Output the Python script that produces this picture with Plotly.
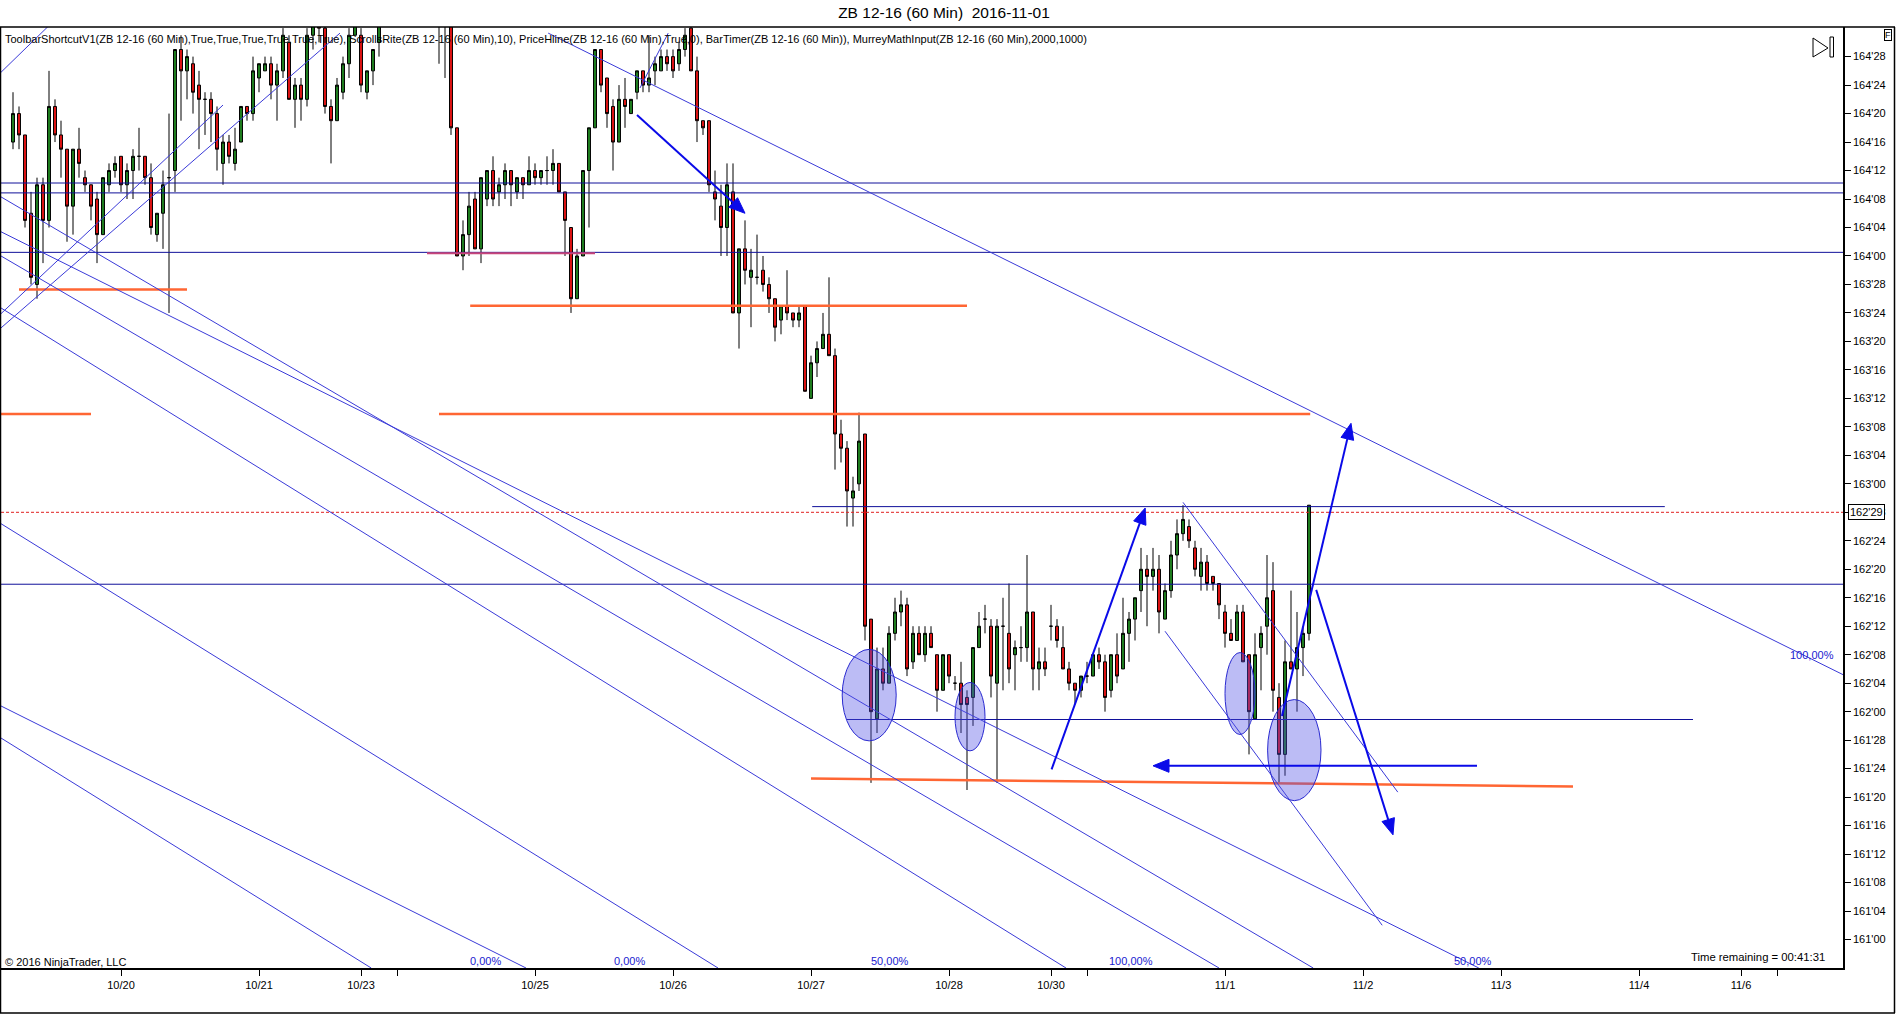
import plotly.graph_objects as go

# ZB 12-16 60 min bars, one slot per hourly bar on the time axis
bar_pos = list(range(2, 219))

# OHLC in 32nds above 160'00 (128 = 164'00)
open_32 = [144, 148, 145, 134, 124, 138, 133, 149, 145, 143,
           135, 143, 139, 138, 136, 131, 138, 140, 142, 138,
           140, 142, 142, 139, 131, 134, 139, 140, 157, 154,
           155, 152, 150, 150, 148, 141, 144, 141, 144, 149,
           148, 153, 154, 155, 152, 154, 158, 150, 152, 150,
           159, 163, 160, 149, 147, 151, 155, 159, 159, 151,
           154, 158, 161, 165, 166, 167, 168, 169, 170, 167,
           164, 163, 164, 162, 146, 128, 131, 136, 129, 136,
           140, 137, 138, 140, 137, 139, 138, 140, 139, 140,
           140, 141, 137, 132, 122, 128, 140, 146, 157, 153,
           149, 144, 150, 148, 151, 154, 152, 154, 154, 156,
           156, 155, 157, 160, 154, 147, 147, 137, 135, 132,
           137, 120, 129, 125, 125, 126, 124, 122, 119, 121,
           120, 119, 121, 108, 113, 115, 117, 114, 103, 101,
           94, 96, 103, 77, 63, 70, 68, 75, 78, 79,
           71, 75, 72, 75, 72, 67, 72, 68, 68, 66,
           66, 73, 77, 76, 68, 76, 75, 72, 73, 73,
           78, 70, 71, 76, 76, 73, 70, 68, 67, 69,
           69, 72, 71, 67, 72, 70, 75, 77, 81, 84,
           83, 84, 77, 81, 86, 89, 90, 87, 83, 85,
           83, 82, 78, 75, 74, 78, 72, 63, 73, 76,
           81, 66, 58, 71, 70, 73, 75]
high_32 = [151, 149, 145, 137, 139, 139, 154, 150, 147, 143,
           143, 146, 140, 138, 137, 139, 141, 142, 142, 141,
           143, 146, 142, 141, 134, 140, 148, 157, 159, 157,
           156, 154, 151, 151, 149, 145, 145, 146, 149, 149,
           156, 155, 156, 156, 155, 160, 159, 153, 153, 160,
           163, 164, 161, 150, 153, 156, 160, 164, 160, 154,
           157, 162, 166, 168, 169, 170, 171, 172, 172, 169,
           166, 165, 165, 163, 146, 133, 137, 137, 139, 140,
           142, 139, 141, 140, 139, 139, 142, 141, 140, 142,
           143, 141, 137, 132, 129, 140, 146, 157, 157, 153,
           150, 152, 153, 150, 154, 154, 159, 156, 157, 157,
           157, 158, 160, 162, 156, 147, 147, 140, 138, 141,
           141, 129, 133, 129, 131, 128, 125, 122, 121, 126,
           120, 121, 121, 114, 116, 120, 125, 115, 105, 102,
           97, 106, 103, 77, 73, 73, 76, 80, 81, 80,
           76, 76, 76, 76, 72, 72, 72, 69, 71, 67,
           73, 78, 79, 77, 77, 80, 82, 74, 76, 86,
           78, 73, 73, 79, 77, 76, 71, 68, 69, 71,
           72, 73, 72, 72, 75, 80, 78, 80, 87, 86,
           87, 86, 82, 88, 91, 93, 91, 88, 87, 86,
           83, 82, 79, 77, 79, 79, 72, 75, 76, 86,
           85, 68, 74, 81, 78, 76, 93]
low_32 = [143, 143, 132, 124, 122, 127, 132, 144, 139, 130,
          131, 139, 137, 133, 127, 131, 137, 139, 137, 136,
          136, 140, 138, 131, 130, 129, 120, 137, 147, 150,
          148, 143, 145, 144, 140, 138, 141, 140, 144, 147,
          147, 151, 154, 150, 147, 153, 150, 146, 147, 149,
          157, 158, 148, 141, 147, 150, 153, 159, 151, 150,
          152, 156, 161, 163, 164, 165, 166, 167, 166, 163,
          161, 155, 153, 145, 128, 126, 128, 129, 127, 135,
          135, 135, 136, 135, 136, 136, 138, 138, 138, 138,
          138, 137, 128, 120, 122, 128, 132, 146, 151, 146,
          140, 144, 146, 148, 150, 151, 151, 152, 154, 154,
          153, 154, 156, 154, 144, 145, 137, 133, 128, 128,
          120, 115, 124, 118, 124, 123, 120, 116, 117, 119,
          118, 118, 109, 108, 111, 115, 114, 98, 99, 90,
          90, 95, 74, 54, 61, 67, 68, 74, 76, 69,
          70, 72, 71, 73, 64, 67, 68, 67, 61, 53,
          62, 73, 75, 66, 54, 67, 68, 67, 71, 71,
          67, 67, 69, 74, 73, 70, 67, 65, 66, 68,
          69, 70, 64, 66, 68, 70, 71, 74, 78, 76,
          81, 75, 77, 80, 84, 88, 87, 83, 81, 81,
          81, 77, 73, 74, 74, 71, 58, 63, 67, 72,
          64, 54, 55, 70, 64, 69, 74]
close_32 = [148, 145, 133, 125, 138, 133, 149, 145, 143, 135,
            143, 141, 138, 135, 131, 139, 140, 141, 138, 140,
            142, 142, 139, 132, 134, 138, 139, 157, 154, 156,
            151, 150, 150, 148, 143, 144, 142, 143, 149, 148,
            154, 155, 155, 152, 154, 159, 150, 152, 150, 159,
            162, 160, 149, 147, 152, 155, 159, 162, 152, 154,
            157, 161, 165, 166, 167, 168, 169, 170, 167, 164,
            163, 164, 162, 146, 128, 131, 135, 129, 139, 140,
            136, 138, 140, 138, 139, 138, 140, 139, 140, 140,
            141, 137, 133, 122, 128, 140, 146, 157, 152, 148,
            144, 150, 149, 150, 154, 152, 153, 155, 156, 155,
            154, 157, 159, 154, 147, 146, 138, 136, 132, 138,
            120, 129, 126, 126, 125, 124, 122, 118, 121, 120,
            119, 120, 109, 113, 115, 117, 114, 103, 101, 95,
            95, 102, 76, 64, 70, 68, 75, 78, 79, 70,
            75, 72, 75, 73, 67, 72, 69, 68, 65, 65,
            73, 76, 77, 69, 76, 76, 70, 73, 73, 78,
            70, 71, 70, 76, 74, 70, 68, 67, 69, 69,
            72, 71, 66, 72, 69, 75, 77, 80, 84, 83,
            84, 78, 81, 86, 89, 91, 88, 84, 85, 82,
            82, 79, 75, 74, 78, 71, 64, 72, 75, 80,
            67, 58, 71, 70, 73, 75, 93]

# day separators on the time axis
day_ticks = [20, 43, 60, 66, 89, 112, 135, 158, 175, 181, 204, 227, 250, 273, 290, 296]
day_labels = ["10/20", "10/21", "10/23", "", "10/25", "10/26", "10/27", "10/28",
              "10/30", "", "11/1", "11/2", "11/3", "11/4", "11/6", ""]

# drawing objects (bar slot, 32nds)
murrey_levels = [138.25, 136.86, 128.51, 81.9]
navy_segments = [(135.2, 277.3, 92.8), (141.0, 282.0, 62.9)]
orange_segments = [(3, 123.3, 31, 123.3), (78.2, 121.0, 161, 121.0),
                   (0, 105.8, 15, 105.8), (73, 105.8, 218.2, 105.8),
                   (135, 54.6, 262, 53.5)]
pink_segment = (71, 128.4, 99, 128.4)
price_line = 92
trend_lines = [(91.2, 159.3, 307, 69.2), (0, 131.4, 246.3, 28), (0, 136.3, 218.7, 28),
               (0, 128.0, 203, 28), (0, 120.7, 177.5, 28), (0, 90.4, 119.5, 28),
               (0, 64.8, 87.5, 28), (0, 60.3, 61.7, 28), (0, 119.9, 37, 149.2),
               (0, 117.9, 56.5, 159.3), (0, 153.8, 7.8, 160.2), (194, 75.3, 230.2, 34),
               (197, 93.4, 232.8, 52.7), (106.5, 151.6, 111.2, 159.3)]
arrows = [(106, 147.8, 124, 134), (175.1, 55.9, 190.7, 92.6), (213.5, 63.4, 225, 104.5),
          (219.2, 81.1, 232, 46.7), (246, 56.4, 192, 56.4)]
ellipses = [(140.2, 149.2, 59.9, 72.75), (159, 164, 58.5, 68.1),
            (204, 209, 60.8, 72.3), (211.1, 220, 51.5, 65.7)]
pct_labels = [(80.7, 29.0, "0,00%"), (104.8, 29.0, "0,00%"), (148.2, 29.0, "50,00%"),
              (188.3, 29.0, "100,00%"), (245.3, 29.0, "50,00%"), (301.8, 72.0, "100,00%")]

X_MAX = 307
Y_BOT, Y_TOP = 28, 160.16
PX_X = 1842 / X_MAX
PX_Y = 941 / (Y_TOP - Y_BOT)


def fmt32(v):
    v = int(round(v))
    return f"{160 + v // 32}'{v % 32:02d}"


def pp(xp, yp):
    # pixel -> paper
    return (xp - 1) / 1842, (968 - yp) / 941


fig = go.Figure()
fig.add_trace(go.Candlestick(
    x=bar_pos, open=open_32, high=high_32, low=low_32, close=close_32,
    increasing=dict(line=dict(color="black", width=1), fillcolor="#1f7f1f"),
    decreasing=dict(line=dict(color="black", width=1), fillcolor="#e01414"),
    whiskerwidth=0, hoverinfo="skip", showlegend=False))

shapes = []
NAVY = "#10109a"
THIN = "#3a3ad8"
for lv in murrey_levels:
    shapes.append(dict(type="line", x0=0, x1=X_MAX, y0=lv, y1=lv, line=dict(color=NAVY, width=1)))
for x0, x1, lv in navy_segments:
    shapes.append(dict(type="line", x0=x0, x1=x1, y0=lv, y1=lv, line=dict(color=NAVY, width=1)))
shapes.append(dict(type="line", x0=0, x1=X_MAX, y0=price_line, y1=price_line,
                   line=dict(color="#e02020", width=1, dash="3px,2px")))
for x0, y0, x1, y1 in orange_segments:
    shapes.append(dict(type="line", x0=x0, y0=y0, x1=x1, y1=y1, line=dict(color="#ff6633", width=2.5)))
x0, y0, x1, y1 = pink_segment
shapes.append(dict(type="line", x0=x0, y0=y0, x1=x1, y1=y1, line=dict(color="#c8457a", width=2)))
for x0, y0, x1, y1 in trend_lines:
    shapes.append(dict(type="line", x0=x0, y0=y0, x1=x1, y1=y1, line=dict(color=THIN, width=1)))
for x0, x1, y0, y1 in ellipses:
    shapes.append(dict(type="circle", x0=x0, x1=x1, y0=y0, y1=y1,
                       fillcolor="rgba(80,80,230,0.38)", line=dict(color="#2a2ad0", width=1)))
for x0, y0, x1, y1 in arrows:
    dx, dy = (x1 - x0) * PX_X, (y1 - y0) * PX_Y
    n = (dx * dx + dy * dy) ** 0.5
    ux, uy = dx / n, dy / n
    head, half = 16, 6.5
    bx, by = x1 - ux * head / PX_X, y1 - uy * head / PX_Y
    lx, ly = bx - uy * half / PX_X, by + ux * half / PX_Y
    rx, ry = bx + uy * half / PX_X, by - ux * half / PX_Y
    shapes.append(dict(type="line", x0=x0, y0=y0, x1=bx, y1=by, line=dict(color="#0a0ae8", width=2)))
    shapes.append(dict(type="path", path=f"M{x1},{y1} L{lx},{ly} L{rx},{ry} Z",
                       fillcolor="#0a0ae8", line=dict(color="#0a0ae8", width=1)))

# outer frame
for a, b in [((0, 27), (1895, 27)), ((0.5, 27), (0.5, 1013)),
             ((1894.5, 27), (1894.5, 1013)), ((0, 1013), (1895, 1013))]:
    p0, p1 = pp(*a), pp(*b)
    shapes.append(dict(type="line", xref="paper", yref="paper", x0=p0[0], y0=p0[1],
                       x1=p1[0], y1=p1[1], line=dict(color="black", width=1.5)))
# play-to-end icon
t1, t2, t3 = pp(1813, 38), pp(1828, 48), pp(1813, 57)
shapes.append(dict(type="path", xref="paper", yref="paper",
                   path=f"M{t1[0]},{t1[1]} L{t2[0]},{t2[1]} L{t3[0]},{t3[1]} Z",
                   line=dict(color="black", width=1)))
r0, r1 = pp(1830, 37), pp(1833.5, 57)
shapes.append(dict(type="rect", xref="paper", yref="paper", x0=r0[0], y0=r0[1], x1=r1[0], y1=r1[1],
                   line=dict(color="black", width=1)))

FONT = "Arial, Liberation Sans, sans-serif"
ann = []
for x, y, t in pct_labels:
    ann.append(dict(x=x, y=y, text=t, showarrow=False, font=dict(family=FONT, size=11, color="#2020d0")))
ind_text = ("ToolbarShortcutV1(ZB 12-16 (60 Min),True,True,True,True,True,True), "
            "ScrollsRite(ZB 12-16 (60 Min),10), PriceHline(ZB 12-16 (60 Min),True,0), "
            "BarTimer(ZB 12-16 (60 Min)), MurreyMathInput(ZB 12-16 (60 Min),2000,1000)")
p = pp(3, 39)
ann.append(dict(xref="paper", yref="paper", x=p[0], y=p[1], xanchor="left", yanchor="middle",
                text=ind_text, showarrow=False, font=dict(family=FONT, size=11, color="black")))
p = pp(1827, 957)
ann.append(dict(xref="paper", yref="paper", x=p[0], y=p[1], xanchor="right", yanchor="middle",
                text="Time remaining = 00:41:31", showarrow=False,
                font=dict(family=FONT, size=11.3, color="black")))
p = pp(3, 962)
ann.append(dict(xref="paper", yref="paper", x=p[0], y=p[1], xanchor="left", yanchor="middle",
                text="© 2016 NinjaTrader, LLC", showarrow=False,
                font=dict(family=FONT, size=11, color="black")))
p = pp(1848, 0)
ann.append(dict(xref="paper", yref="y", x=p[0], y=price_line, xanchor="left", yanchor="middle",
                text=fmt32(close_32[-1]), showarrow=False, bgcolor="white", bordercolor="black",
                borderwidth=1, borderpad=1, font=dict(family=FONT, size=11, color="black")))
p = pp(1888.5, 35.5)
ann.append(dict(xref="paper", yref="paper", x=p[0], y=p[1], xanchor="center", yanchor="middle",
                text="F", showarrow=False, bordercolor="black", borderwidth=1, borderpad=0,
                font=dict(family=FONT, size=9, color="black")))

y_ticks = list(range(32, 157, 4))
fig.update_layout(
    width=1896, height=1014, autosize=False,
    margin=dict(l=1, r=53, t=27, b=46),
    paper_bgcolor="white", plot_bgcolor="white",
    title=dict(text="ZB 12-16 (60 Min)\u00a0 2016-11-01", x=944 / 1896, xanchor="center",
               y=1 - 13 / 1014, yanchor="middle", font=dict(family=FONT, size=15.5, color="black")),
    xaxis=dict(range=[0, X_MAX], showgrid=False, zeroline=False, showline=True, linecolor="black",
               linewidth=1.5, ticks="outside", ticklen=6, tickcolor="black", tickvals=day_ticks,
               ticktext=day_labels, tickfont=dict(family=FONT, size=11, color="black"),
               rangeslider=dict(visible=False), fixedrange=True),
    yaxis=dict(range=[Y_BOT, Y_TOP], side="right", showgrid=False, zeroline=False, showline=True,
               linecolor="black", linewidth=1.5, ticks="outside", ticklen=6, tickcolor="black",
               tickvals=y_ticks, ticktext=[fmt32(t) for t in y_ticks],
               tickfont=dict(family=FONT, size=11, color="black"), fixedrange=True),
    shapes=shapes, annotations=ann, showlegend=False,
)

fig.write_html("out.html", config={"displayModeBar": False},
               post_script="document.body.style.margin='0px';"
               "document.body.style.overflow='hidden';")
